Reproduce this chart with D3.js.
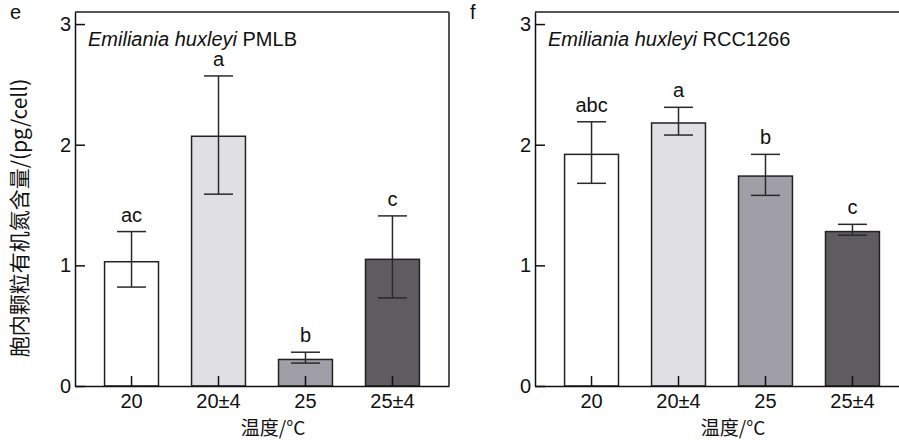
<!DOCTYPE html>
<html lang="zh">
<head>
<meta charset="UTF-8">
<title>温度 - 颗粒有机氮</title>
<script src="https://cdn.jsdelivr.net/npm/d3@7/dist/d3.min.js"></script>
<style>
    body { margin: 0; background: #fff; }
    svg text { font-family: "Liberation Sans", Arial, sans-serif; fill: #111; }
    .cjk { font-family: "Noto Sans CJK SC", "Liberation Sans", sans-serif; }
    .axis path, .axis line { stroke: #111; stroke-width: 1.5px; }
    .axis text { font-size: 20px; }
</style>
</head>
<body>
<div id="chart"></div>
<script>
// 数据
var categories = ["20", "20±4", "25", "25±4"];
var fills = ["#ffffff", "#e0dfe3", "#a09ea7", "#5e5c61"];

// e: PMLB
var pmlbMean  = [1.03, 2.07, 0.22, 1.05];
var pmlbUpper = [1.28, 2.57, 0.28, 1.41];
var pmlbLower = [0.82, 1.59, 0.19, 0.73];
var pmlbSig   = ["ac", "a", "b", "c"];

// f: RCC1266
var rccMean  = [1.92, 2.18, 1.74, 1.28];
var rccUpper = [2.19, 2.31, 1.92, 1.34];
var rccLower = [1.68, 2.08, 1.58, 1.25];
var rccSig   = ["abc", "a", "b", "c"];

var yTicks = [0, 1, 2, 3];

var W = 899, H = 440;
var top_ = 12, bottom_ = 386;

var svg = d3.select("#chart").append("svg")
    .attr("width", W).attr("height", H);

var y = d3.scaleLinear().domain([0, 3.1]).range([bottom_, top_]);

function drawPanel(left, right, letter, strain, mean, upper, lower, sig, showYLabel) {
    var x = d3.scaleBand().domain(categories)
        .range([left, right])
        .paddingInner(0.38).paddingOuter(0.34);

    var g = svg.append("g");

    // 上、右边框
    g.append("line").attr("x1", left).attr("x2", right).attr("y1", top_).attr("y2", top_)
        .attr("stroke", "#555").attr("stroke-width", 2);
    g.append("line").attr("x1", right).attr("x2", right).attr("y1", top_).attr("y2", bottom_)
        .attr("stroke", "#555").attr("stroke-width", 2);

    // 柱子
    g.selectAll(".bar").data(categories).enter().append("rect")
        .attr("class", "bar")
        .attr("x", d => x(d))
        .attr("width", x.bandwidth())
        .attr("y", (d, i) => y(mean[i]))
        .attr("height", (d, i) => y(0) - y(mean[i]))
        .attr("fill", (d, i) => fills[i])
        .attr("stroke", "#222").attr("stroke-width", 1.5);

    // 误差线
    var cap = 14.5;
    var eb = g.selectAll(".err").data(categories).enter().append("g")
        .attr("class", "err")
        .attr("stroke", "#2a2a2a").attr("stroke-width", 1.5);
    eb.append("line")
        .attr("x1", d => x(d) + x.bandwidth() / 2).attr("x2", d => x(d) + x.bandwidth() / 2)
        .attr("y1", (d, i) => y(upper[i])).attr("y2", (d, i) => y(lower[i]));
    eb.append("line")
        .attr("x1", d => x(d) + x.bandwidth() / 2 - cap).attr("x2", d => x(d) + x.bandwidth() / 2 + cap)
        .attr("y1", (d, i) => y(upper[i])).attr("y2", (d, i) => y(upper[i]));
    eb.append("line")
        .attr("x1", d => x(d) + x.bandwidth() / 2 - cap).attr("x2", d => x(d) + x.bandwidth() / 2 + cap)
        .attr("y1", (d, i) => y(lower[i])).attr("y2", (d, i) => y(lower[i]));

    // 显著性字母
    g.selectAll(".sig").data(categories).enter().append("text")
        .attr("class", "sig")
        .attr("x", d => x(d) + x.bandwidth() / 2)
        .attr("y", (d, i) => y(upper[i]) - 10)
        .attr("text-anchor", "middle")
        .attr("font-size", 20)
        .text((d, i) => sig[i]);

    // 坐标轴（刻度向内）
    g.append("g").attr("class", "axis")
        .attr("transform", "translate(" + left + ",0)")
        .call(d3.axisLeft(y).tickValues(yTicks).tickFormat(d3.format("d"))
            .tickSizeInner(-10).tickSizeOuter(0).tickPadding(4));
    g.append("g").attr("class", "axis")
        .attr("transform", "translate(0," + bottom_ + ")")
        .call(d3.axisBottom(x).tickSizeInner(-10).tickSizeOuter(0).tickPadding(8));

    // 标题
    var t = g.append("text").attr("x", left + 13).attr("y", 46).attr("font-size", 20);
    t.append("tspan").attr("font-style", "italic").text("Emiliania huxleyi");
    t.append("tspan").text(" " + strain);

    // 面板字母
    svg.append("text").attr("x", left - 65).attr("y", 19).attr("font-size", 20).text(letter);

    // x 轴标题
    g.append("text").attr("class", "cjk")
        .attr("x", (left + right) / 2 + 11).attr("y", 435)
        .attr("text-anchor", "middle").attr("font-size", 19)
        .text("温度/°C");

    if (showYLabel) {
        svg.append("text").attr("class", "cjk")
            .attr("transform", "translate(27," + ((top_ + bottom_) / 2 + 19) + ") rotate(-90)")
            .attr("text-anchor", "middle").attr("font-size", 21)
            .text("胞内颗粒有机氮含量/(pg/cell)");
    }
}

drawPanel(75, 449, "e", "PMLB", pmlbMean, pmlbUpper, pmlbLower, pmlbSig, true);
drawPanel(535, 909, "f", "RCC1266", rccMean, rccUpper, rccLower, rccSig, false);
</script>
</body>
</html>
